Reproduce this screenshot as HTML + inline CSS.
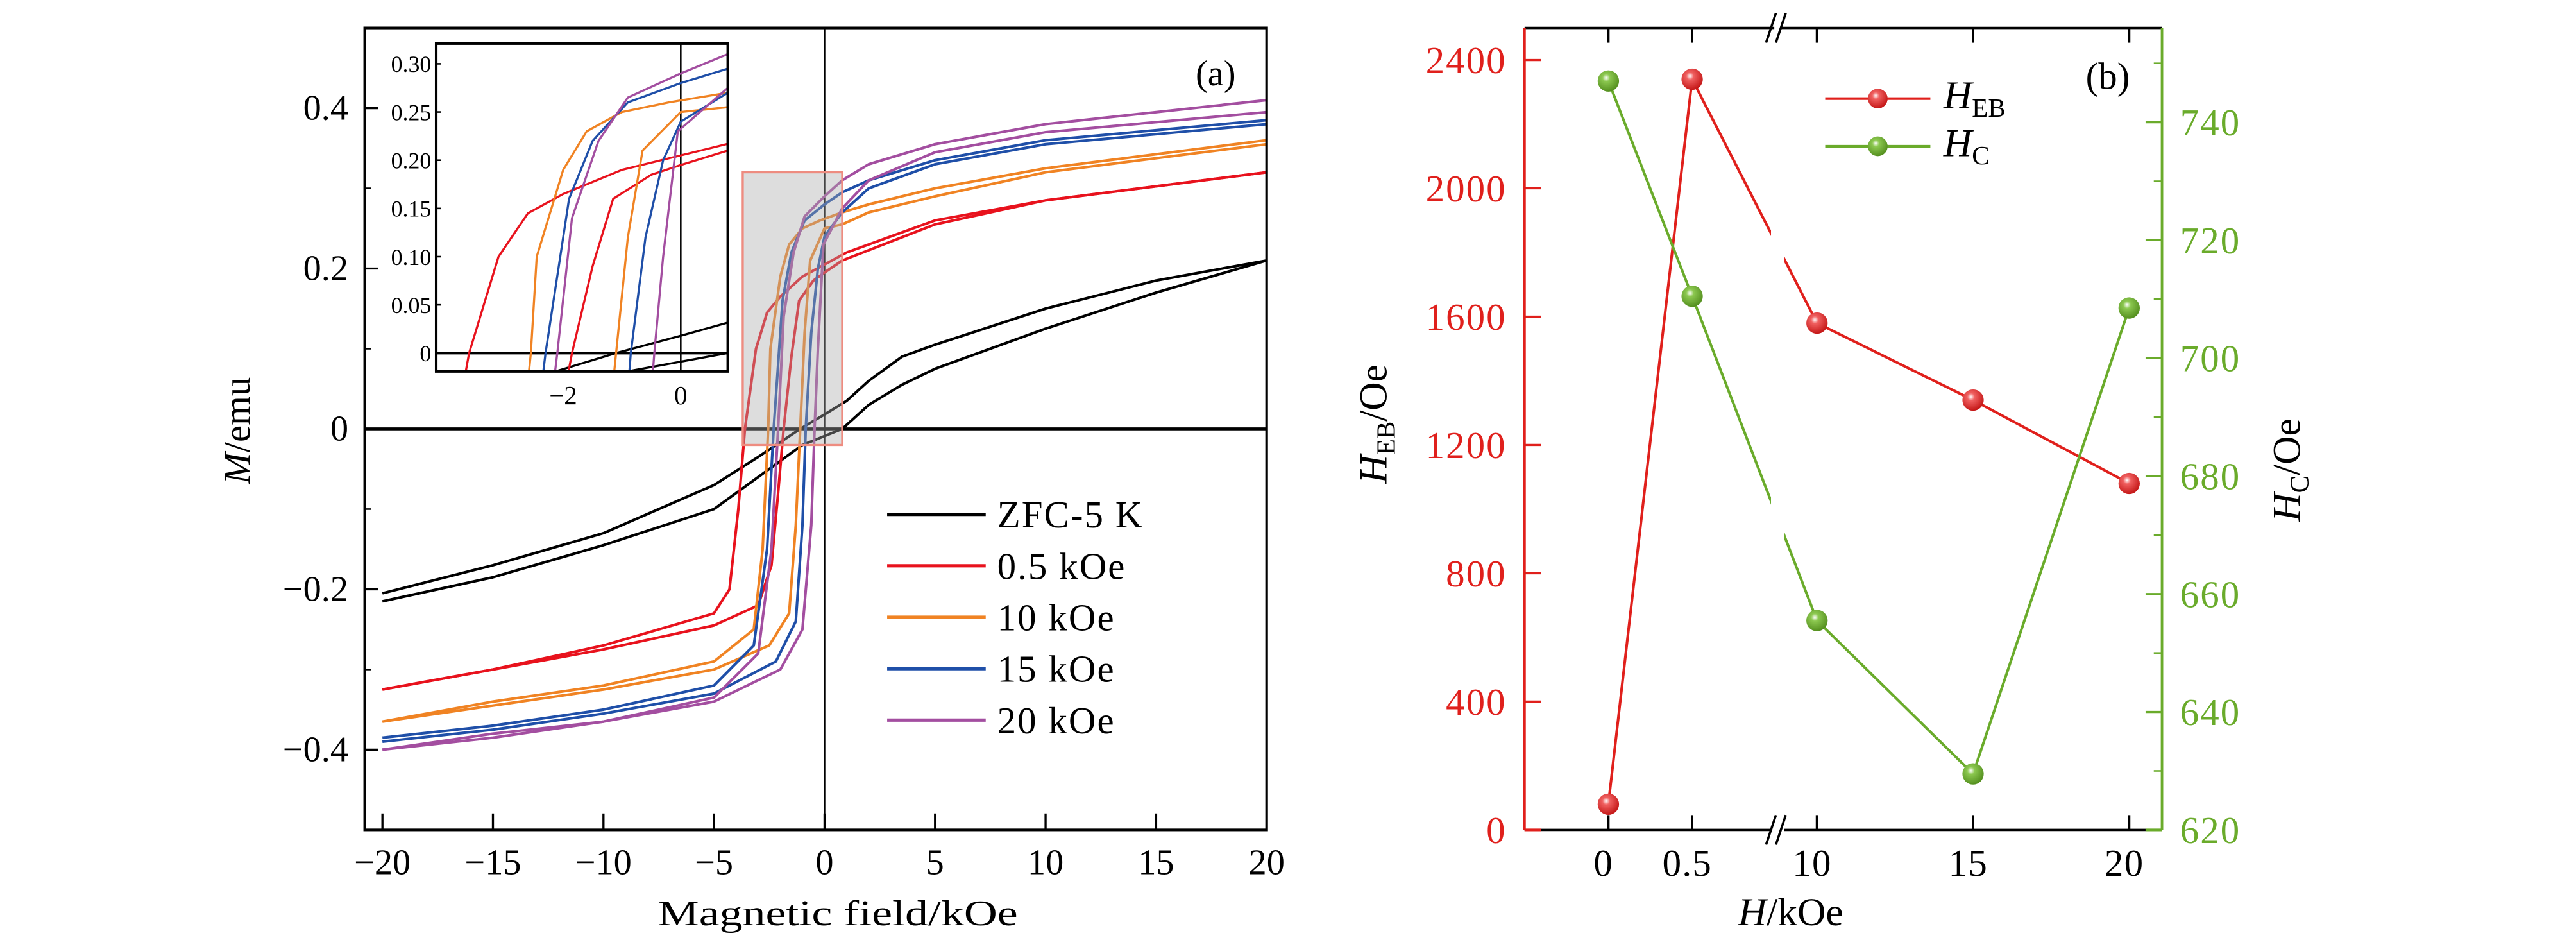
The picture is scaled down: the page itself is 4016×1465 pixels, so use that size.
<!DOCTYPE html>
<html><head><meta charset="utf-8"><style>
html,body{margin:0;padding:0;background:#fff}
svg{display:block}
text{font-family:"Liberation Serif",serif}
</style></head><body>
<svg id="fig" width="4016" height="1465" viewBox="0 0 1568 572" xmlns="http://www.w3.org/2000/svg">
<defs>
<clipPath id="clipMain"><rect x="222" y="17" width="549" height="488"/></clipPath>
<clipPath id="clipInset"><rect x="265.5" y="26.5" width="177.5" height="199.5"/></clipPath>
<radialGradient id="gRed" cx="0.4" cy="0.35" r="0.7"><stop offset="0" stop-color="#fff"/><stop offset="0.25" stop-color="#f06060"/><stop offset="1" stop-color="#c01010"/></radialGradient>
<radialGradient id="gGreen" cx="0.4" cy="0.35" r="0.7"><stop offset="0" stop-color="#fff"/><stop offset="0.25" stop-color="#8cc850"/><stop offset="1" stop-color="#4f8a1a"/></radialGradient>
</defs>
<g id="panelA"></g>
<g id="panelB"></g>
</svg>
<script>
// ---------- Panel (a) data ----------
const seriesNames = ["ZFC-5 K","0.5 kOe","10 kOe","15 kOe","20 kOe"];
const blackDescH = [20,15,10,5,3.5,2,1,0,-1.1,-3,-5,-10,-15,-20];
const blackDescM = [0.21,0.185,0.15,0.105,0.09,0.06,0.035,0.018,0,-0.035,-0.07,-0.13,-0.17,-0.205];
const blackAscH = [-20,-15,-10,-5,-3,-1,0.8,2,3.5,5,10,15,20];
const blackAscM = [-0.215,-0.185,-0.145,-0.1,-0.06,-0.02,0,0.03,0.055,0.075,0.125,0.17,0.21];
const redDescH = [20,10,5,1,0,-1,-2,-2.6,-3.1,-3.6,-3.9,-4.3,-5,-10,-15,-20];
const redDescM = [0.32,0.285,0.26,0.22,0.205,0.19,0.165,0.145,0.10,0.0,-0.1,-0.2,-0.23,-0.27,-0.30,-0.325];
const redAscH = [-20,-15,-10,-5,-3,-2.4,-2.1,-1.85,-1.5,-1.15,-0.5,0,0.8,5,10,20];
const redAscM = [-0.325,-0.30,-0.275,-0.245,-0.22,-0.17,-0.08,0.0,0.09,0.16,0.185,0.195,0.21,0.255,0.285,0.32];
const orangeDescH = [20,10,5,2,0.8,-0.2,-1,-1.6,-2,-2.45,-2.55,-2.8,-3.2,-5,-10,-15,-20];
const orangeDescM = [0.36,0.325,0.3,0.28,0.27,0.26,0.25,0.23,0.19,0.10,0.0,-0.15,-0.25,-0.29,-0.32,-0.34,-0.365];
const orangeAscH = [-20,-15,-10,-5,-2.5,-1.6,-1.3,-1.1,-0.9,-0.65,0,0.8,2,5,10,20];
const orangeAscM = [-0.365,-0.345,-0.325,-0.3,-0.27,-0.23,-0.12,0.0,0.12,0.21,0.25,0.255,0.27,0.29,0.32,0.355];
const blueDescH = [20,10,5,2,0.8,0,-0.9,-1.5,-1.9,-2.1,-2.3,-2.6,-3.2,-5,-10,-15,-20];
const blueDescM = [0.385,0.36,0.335,0.31,0.295,0.28,0.26,0.22,0.16,0.08,0.0,-0.15,-0.27,-0.32,-0.35,-0.37,-0.385];
const blueAscH = [-20,-15,-10,-5,-2.2,-1.3,-1.0,-0.85,-0.6,-0.3,0,0.8,2,5,10,20];
const blueAscM = [-0.39,-0.375,-0.355,-0.33,-0.29,-0.24,-0.12,0,0.12,0.2,0.24,0.27,0.3,0.33,0.355,0.38];
const purpleDescH = [20,10,5,2,0.8,0,-0.9,-1.4,-1.85,-2.1,-2.4,-3,-5,-10,-15,-20];
const purpleDescM = [0.41,0.38,0.355,0.33,0.31,0.29,0.265,0.22,0.14,0.0,-0.15,-0.28,-0.335,-0.365,-0.38,-0.4];
const purpleAscH = [-20,-15,-10,-5,-2,-1,-0.6,-0.45,-0.3,-0.05,0.8,2,5,10,20];
const purpleAscM = [-0.4,-0.385,-0.365,-0.34,-0.3,-0.25,-0.12,0,0.1,0.23,0.275,0.31,0.345,0.37,0.395];
const xTicksA = [-20,-15,-10,-5,0,5,10,15,20];
const yTicksA = [-0.4,-0.2,0,0.2,0.4];
const yTickLabelsA = ["\u22120.4","\u22120.2","0","0.2","0.4"];
const insetXTicks = [-2,0];
const insetYTicks = [0,0.05,0.10,0.15,0.20,0.25,0.30];
const insetYLabels = ["0","0.05","0.10","0.15","0.20","0.25","0.30"];
// ---------- Panel (b) data ----------
const fieldCats = [0,0.5,10,15,20];
const fieldLabels = ["0","0.5","10","15","20"];
const hebValues = [80,2340,1580,1340,1080];
const hcValues = [747,710.5,655.5,629.5,708.5];
const hebTicks = [0,400,800,1200,1600,2000,2400];
const hcTicks = [620,640,660,680,700,720,740];

const NS="http://www.w3.org/2000/svg";
function mk(tag, attrs, parent, txt){const e=document.createElementNS(NS,tag);for(const k in attrs)e.setAttribute(k,attrs[k]);if(txt!==undefined)e.textContent=txt;parent.appendChild(e);return e;}

// ---------- Panel (a) ----------
const A=document.getElementById('panelA');
const ax0=222,ax1=771,ay0=17,ay1=505,xmin=-20.8,xmax=20,ymin=-0.5,ymax=0.5;
const sx=h=>ax0+(h-xmin)/(xmax-xmin)*(ax1-ax0);
const sy=m=>ay1-(m-ymin)/(ymax-ymin)*(ay1-ay0);
const ix0=265.5,ix1=443,iy0=26.5,iy1=226,ixmin=-4.16,ixmax=0.8,iymin=-0.019,iymax=0.321;
const isx=h=>ix0+(h-ixmin)/(ixmax-ixmin)*(ix1-ix0);
const isy=m=>iy1-(m-iymin)/(iymax-iymin)*(iy1-iy0);
const loops=[
 [blackDescH,blackDescM,blackAscH,blackAscM,"#000"],
 [redDescH,redDescM,redAscH,redAscM,"#e8121d"],
 [orangeDescH,orangeDescM,orangeAscH,orangeAscM,"#f08323"],
 [blueDescH,blueDescM,blueAscH,blueAscM,"#1f4fa8"],
 [purpleDescH,purpleDescM,purpleAscH,purpleAscM,"#a34ea0"]];
function pathD(H,M,fx,fy){return H.map((h,i)=>(i?'L':'M')+fx(h).toFixed(2)+','+fy(M[i]).toFixed(2)).join(' ');}

let l=mk('line',{x1:sx(0),x2:sx(0),y1:ay0,y2:ay1,stroke:'#000','stroke-width':1},A);


l=mk('line',{x1:ax0,x2:ax1,y1:sy(0),y2:sy(0),stroke:'#000','stroke-width':1.8},A);



const gMain=mk('g',{'clip-path':'url(#clipMain)'},A);
loops.forEach((lp,i)=>{
 const g=mk('g',{},gMain);
 
 
 mk('path',{d:pathD(lp[0],lp[1],sx,sy),fill:'none',stroke:lp[4],'stroke-width':1.6,'stroke-linejoin':'round'},g);
 mk('path',{d:pathD(lp[2],lp[3],sx,sy),fill:'none',stroke:lp[4],'stroke-width':1.6,'stroke-linejoin':'round'},g);
});
const hr=mk('rect',{x:sx(-3.7),y:sy(0.32),width:sx(0.8)-sx(-3.7),height:sy(-0.02)-sy(0.32),fill:'rgba(170,170,170,0.4)',stroke:'#ee8c80','stroke-width':1.3},A);



const fr=mk('rect',{x:ax0,y:ay0,width:ax1-ax0,height:ay1-ay0,fill:'none',stroke:'#000','stroke-width':1.6},A);


xTicksA.forEach(t=>{
 mk('line',{x1:sx(t),x2:sx(t),y1:ay1,y2:ay1-10,stroke:'#000','stroke-width':1.3},A);
 const tx=mk('text',{x:sx(t),y:ay1+27,'font-size':22,'text-anchor':'middle'},A,t<0?'\u2212'+(-t):''+t);
 
 
});
yTicksA.forEach((t,i)=>{
 mk('line',{x1:ax0,x2:ax0+8,y1:sy(t),y2:sy(t),stroke:'#000','stroke-width':1.3},A);
 const tx=mk('text',{x:ax0-10,y:sy(t)+7,'font-size':22,'text-anchor':'end'},A,yTickLabelsA[i]);
 
 
});
for(let t=-0.3;t<=0.31;t+=0.2){mk('line',{x1:ax0,x2:ax0+4,y1:sy(t),y2:sy(t),stroke:'#000','stroke-width':1},A);}
let tt=mk('text',{x:510,y:563,'font-size':22,'text-anchor':'middle',textLength:219,lengthAdjust:'spacingAndGlyphs'},A,'Magnetic field/kOe');


tt=mk('text',{x:0,y:0,'font-size':23,'text-anchor':'middle',transform:'translate(152,262) rotate(-90)'},A);


mk('tspan',{'font-style':'italic'},tt,'M');mk('tspan',{},tt,'/emu');
tt=mk('text',{x:740,y:52,'font-size':22,'text-anchor':'middle'},A,'(a)');


const lg=mk('g',{},A);


seriesNames.forEach((n,i)=>{
 const y=313+i*31.3;
 const e=mk('g',{},lg);
 
 
 mk('line',{x1:540,x2:600,y1:y,y2:y,stroke:loops[i][4],'stroke-width':2},e);
 mk('text',{x:607,y:y+8,'font-size':23,'letter-spacing':0.8},e,n);
});

// inset
const IN=mk('g',{},A);


mk('rect',{x:ix0,y:iy0,width:ix1-ix0,height:iy1-iy0,fill:'#fff'},IN);
const gIn=mk('g',{'clip-path':'url(#clipInset)'},IN);
mk('line',{x1:isx(0),x2:isx(0),y1:iy0,y2:iy1,stroke:'#000','stroke-width':1},gIn);
mk('line',{x1:ix0,x2:ix1,y1:isy(0),y2:isy(0),stroke:'#000','stroke-width':1.6},gIn);
loops.forEach(lp=>{
 mk('path',{d:pathD(lp[0],lp[1],isx,isy),fill:'none',stroke:lp[4],'stroke-width':1.3},gIn);
 mk('path',{d:pathD(lp[2],lp[3],isx,isy),fill:'none',stroke:lp[4],'stroke-width':1.3},gIn);
});
mk('rect',{x:ix0,y:iy0,width:ix1-ix0,height:iy1-iy0,fill:'none',stroke:'#000','stroke-width':1.6},IN);
insetXTicks.forEach(t=>{
 const tx=mk('text',{x:isx(t),y:iy1+20,'font-size':16,'text-anchor':'middle'},IN,t<0?'\u2212'+(-t):''+t);
 
 
});
insetYTicks.forEach((t,i)=>{
 mk('line',{x1:ix0,x2:ix0+3,y1:isy(t),y2:isy(t),stroke:'#000','stroke-width':1},IN);
 const tx=mk('text',{x:ix0-3,y:isy(t)+5,'font-size':14,'text-anchor':'end'},IN,insetYLabels[i]);
 
 
});

// ---------- Panel (b) ----------
const B=document.getElementById('panelB');
const bx0=928,bx1=1316,by0=17,by1=505,brk=1082;
const red='#e0201c',green='#6aab2b';
const bx=x=>x<=0.5?979+x*102:1106+(x-10)*19;
const byL=v=>by1-v/2500*(by1-by0);
const byR=v=>by1-(v-620)/(756-620)*(by1-by0);
function poly(vals,f,col,name){
 const g=mk('g',{},B);
 
 
 mk('path',{d:fieldCats.map((c,i)=>(i?'L':'M')+bx(c)+','+f(vals[i])).join(' '),fill:'none',stroke:col,'stroke-width':1.6},g);
 return g;
}
const gH=poly(hebValues,byL,red,'heb-series');
const gC=poly(hcValues,byR,green,'hc-series');
mk('rect',{x:brk-4,y:by0+3,width:8,height:by1-by0-6,fill:'#fff'},B);
[[gH,hebValues,byL,'url(#gRed)'],[gC,hcValues,byR,'url(#gGreen)']].forEach(s=>{
 fieldCats.forEach((c,i)=>{
  const p=mk('circle',{cx:bx(c),cy:s[2](s[1][i]),r:6.5,fill:s[3]},s[0]);
  
  
 });
});
mk('line',{x1:bx0,x2:brk-2,y1:by0,y2:by0,stroke:'#000','stroke-width':1.4},B);
mk('line',{x1:brk+2,x2:bx1,y1:by0,y2:by0,stroke:'#000','stroke-width':1.4},B);
mk('line',{x1:bx0,x2:brk-4,y1:by1,y2:by1,stroke:'#000','stroke-width':1.4},B);
mk('line',{x1:bx0,x2:bx0+10,y1:by1,y2:by1,stroke:red,'stroke-width':1.6},B);
mk('line',{x1:brk+4,x2:bx1,y1:by1,y2:by1,stroke:'#000','stroke-width':1.4},B);
mk('line',{x1:bx1-10,x2:bx1,y1:by1,y2:by1,stroke:green,'stroke-width':1.6},B);
[by0,by1].forEach(y=>{
 mk('line',{x1:brk-7,x2:brk-1,y1:y+9,y2:y-9,stroke:'#000','stroke-width':1.4},B);
 mk('line',{x1:brk-1,x2:brk+5,y1:y+9,y2:y-9,stroke:'#000','stroke-width':1.4},B);
});
let ax=mk('line',{x1:bx0,x2:bx0,y1:by0,y2:by1,stroke:red,'stroke-width':1.5},B);


ax=mk('line',{x1:bx1,x2:bx1,y1:by0,y2:by1,stroke:green,'stroke-width':1.5},B);


hebTicks.forEach(t=>{
 mk('line',{x1:bx0,x2:bx0+10,y1:byL(t),y2:byL(t),stroke:red,'stroke-width':1.3},B);
 const tx=mk('text',{x:bx0-11,y:byL(t)+8,'font-size':23,'text-anchor':'end',fill:red,'letter-spacing':0.8},B,''+t);
 
 
});
hcTicks.forEach(t=>{
 mk('line',{x1:bx1,x2:bx1-10,y1:byR(t),y2:byR(t),stroke:green,'stroke-width':1.3},B);
 const tx=mk('text',{x:bx1+11,y:byR(t)+8,'font-size':23,fill:green,'letter-spacing':0.8},B,''+t);
 
 
});
for(let t=630;t<756;t+=20)mk('line',{x1:bx1,x2:bx1-5,y1:byR(t),y2:byR(t),stroke:green,'stroke-width':1},B);
fieldCats.forEach((c,i)=>{
 mk('line',{x1:bx(c),x2:bx(c),y1:by1,y2:by1-9,stroke:'#000','stroke-width':1.5},B);
 mk('line',{x1:bx(c),x2:bx(c),y1:by0,y2:by0+9,stroke:'#000','stroke-width':1.5},B);
 const tx=mk('text',{x:bx(c)-3,y:by1+28,'font-size':23,'text-anchor':'middle','letter-spacing':0.5},B,fieldLabels[i]);
 
 
});
tt=mk('text',{x:1090,y:563,'font-size':24,'text-anchor':'middle'},B);


mk('tspan',{'font-style':'italic'},tt,'H');mk('tspan',{},tt,'/kOe');
tt=mk('text',{x:0,y:0,'font-size':24,'text-anchor':'middle',transform:'translate(844,258) rotate(-90)'},B);


mk('tspan',{'font-style':'italic'},tt,'H');mk('tspan',{'font-size':16,dy:5},tt,'EB');mk('tspan',{dy:-5},tt,'/Oe');
tt=mk('text',{x:0,y:0,'font-size':24,'text-anchor':'middle',transform:'translate(1400,286) rotate(-90)'},B);


mk('tspan',{'font-style':'italic'},tt,'H');mk('tspan',{'font-size':16,dy:5},tt,'C');mk('tspan',{dy:-5},tt,'/Oe');
tt=mk('text',{x:1283,y:54,'font-size':23,'text-anchor':'middle'},B,'(b)');


const lgb=mk('g',{},B);


[['EB',red,'url(#gRed)',60],['C',green,'url(#gGreen)',89]].forEach(e=>{
 const g=mk('g',{},lgb);
 
 
 mk('line',{x1:1111,x2:1175,y1:e[3],y2:e[3],stroke:e[1],'stroke-width':1.6},g);
 mk('circle',{cx:1143,cy:e[3],r:6,fill:e[2]},g);
 const t=mk('text',{x:1183,y:e[3]+6,'font-size':24},g);
 mk('tspan',{'font-style':'italic'},t,'H');mk('tspan',{'font-size':16,dy:5},t,e[0]);
});
</script>
</body></html>
